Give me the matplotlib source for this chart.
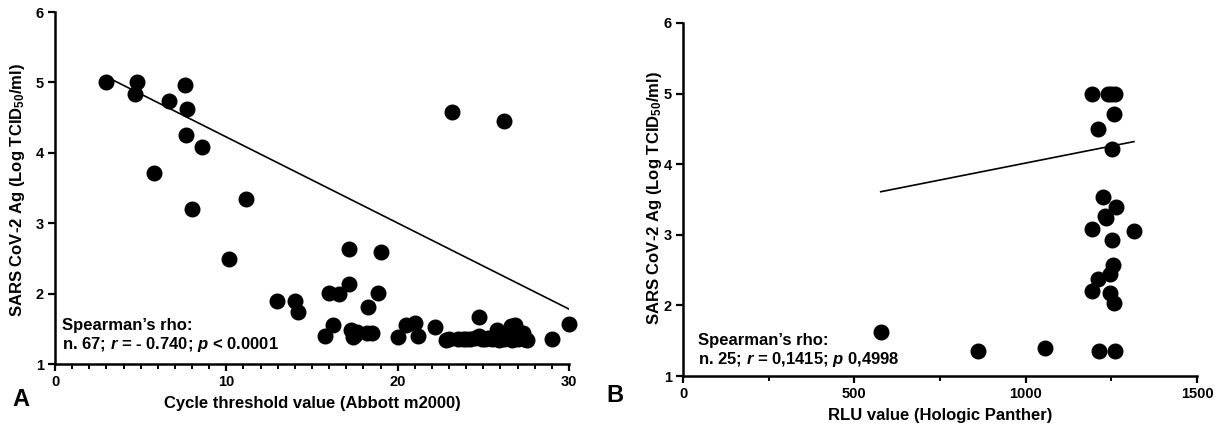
import matplotlib
matplotlib.use("Agg")
import matplotlib.pyplot as plt
from matplotlib.ticker import MultipleLocator

plt.rcParams['font.family'] = ['Liberation Sans', 'DejaVu Sans']
plt.rcParams['font.weight'] = 'bold'
plt.rcParams['mathtext.fontset'] = 'custom'
plt.rcParams['mathtext.rm'] = 'Liberation Sans:bold'
plt.rcParams['mathtext.it'] = 'Liberation Sans:italic:bold'
plt.rcParams['mathtext.bf'] = 'Liberation Sans:bold'
plt.rcParams['mathtext.sf'] = 'Liberation Sans'

# Panel A: Ct value (Abbott m2000) vs antigen
ct_values = [3.0, 4.8, 4.67, 6.65, 7.59, 7.7, 7.65, 8.58, 5.78, 7.99,
             11.15, 10.16, 12.96, 14.0, 14.18, 23.2, 26.2, 15.76, 16.2, 16.0,
             16.6, 17.16, 18.86, 18.27, 17.16, 19.03, 17.3, 17.5, 17.4, 18.2,
             18.5, 20.0, 20.5, 21.0, 21.2, 22.2, 22.8, 23.5, 24.2, 24.75,
             24.75, 25.1, 25.8, 25.9, 26.6, 26.85, 26.95, 27.3, 27.55, 26.7,
             29.0, 30.0, 23.0, 23.8, 24.5, 24.9, 25.3, 25.5, 26.2, 26.4,
             27.0, 27.2, 27.4, 24.0, 25.6, 26.0, 17.6]
ag_a = [5.0, 5.0, 4.83, 4.73, 4.96, 4.62, 4.25, 4.08, 3.71, 3.20,
        3.34, 2.49, 1.89, 1.89, 1.74, 4.58, 4.45, 1.40, 1.56, 2.01,
        1.99, 2.13, 2.01, 1.81, 2.63, 2.59, 1.48, 1.41, 1.38, 1.44,
        1.44, 1.38, 1.55, 1.58, 1.40, 1.52, 1.34, 1.35, 1.35, 1.67,
        1.40, 1.35, 1.48, 1.34, 1.54, 1.55, 1.41, 1.44, 1.34, 1.34,
        1.35, 1.57, 1.36, 1.36, 1.37, 1.36, 1.37, 1.36, 1.36, 1.38,
        1.36, 1.37, 1.36, 1.36, 1.38, 1.37, 1.45]
fit_a_x = [3.0, 30.0]
fit_a_y = [5.08, 1.78]

# Panel B: RLU value (Hologic Panther) vs antigen
rlu_values = [1195, 1240, 1262, 1250, 1258, 1210, 1252, 1225, 1265, 1232,
              1235, 1315, 1195, 1252, 1254, 1246, 1212, 1245, 1195, 1257,
              1262, 1215, 577, 860, 1055]
ag_b = [5.0, 5.0, 5.0, 5.0, 4.71, 4.5, 4.22, 3.54, 3.39, 3.26,
        3.24, 3.06, 3.08, 2.92, 2.57, 2.45, 2.37, 2.18, 2.21, 2.04,
        1.35, 1.35, 1.63, 1.35, 1.40]
fit_b_x = [577, 1316]
fit_b_y = [3.61, 4.32]

ylabel = 'SARS CoV-2 Ag (Log TCID$_{50}$/ml)'

fig = plt.figure(figsize=(12.22, 4.34), dpi=100)
ax_a = fig.add_axes([55 / 1222, 1 - 364 / 434, 514 / 1222, 352 / 434])
ax_b = fig.add_axes([683 / 1222, 1 - 376 / 434, 514 / 1222, 353 / 434])


def style_axis(ax):
    for side in ['top', 'right']:
        ax.spines[side].set_visible(False)
    for side in ['left', 'bottom']:
        ax.spines[side].set_linewidth(1.8)
    ax.tick_params(which='major', length=5, width=1.6, labelsize=10.5, pad=3)
    ax.tick_params(which='minor', length=3.5, width=1.4)
    ax.tick_params(axis='y', which='minor', length=0)
    for lab in ax.get_xticklabels() + ax.get_yticklabels():
        lab.set_fontweight('bold')
    ax.set_ylim(1, 6)
    ax.yaxis.set_major_locator(MultipleLocator(1))


# A
ax_a.plot(fit_a_x, fit_a_y, color='black', lw=1.2, zorder=2)
ax_a.plot(ct_values, ag_a, 'o', color='black', markersize=10.5, zorder=3, clip_on=False)
ax_a.set_xlim(0, 30)
ax_a.xaxis.set_major_locator(MultipleLocator(10))
ax_a.xaxis.set_minor_locator(MultipleLocator(1))
style_axis(ax_a)
ax_a.set_xlabel('Cycle threshold value (Abbott m2000)', fontsize=12, fontweight='bold', labelpad=5)
ax_a.text(0.014, 0.097, "Spearman\u2019s rho:", transform=ax_a.transAxes, fontsize=12, fontweight='bold')
ax_a.text(0.014, 0.043, r"n. 67; $r$ = - 0.740; $p$ < 0.0001", transform=ax_a.transAxes,
          fontsize=12, fontweight='bold')

# B
ax_b.plot(fit_b_x, fit_b_y, color='black', lw=1.2, zorder=2)
ax_b.plot(rlu_values, ag_b, 'o', color='black', markersize=10.5, zorder=3, clip_on=False)
ax_b.set_xlim(0, 1500)
ax_b.xaxis.set_major_locator(MultipleLocator(500))
ax_b.xaxis.set_minor_locator(MultipleLocator(250))
style_axis(ax_b)
ax_b.set_xlabel('RLU value (Hologic Panther)', fontsize=12, fontweight='bold', labelpad=5)
ax_b.text(0.029, 0.088, "Spearman\u2019s rho:", transform=ax_b.transAxes, fontsize=12, fontweight='bold')
ax_b.text(0.029, 0.035, r"n. 25; $r$ = $\mathsf{0{,}1415}$; $p$ $\mathsf{0{,}4998}$", transform=ax_b.transAxes,
          fontsize=12, fontweight='bold')

fig.text(18 / 1222, 1 - 190 / 434, ylabel, rotation=90, ha='center', va='center',
         fontsize=12, fontweight='bold')
fig.text(655 / 1222, 1 - 198 / 434, ylabel, rotation=90, ha='center', va='center',
         fontsize=12, fontweight='bold')
fig.text(21 / 1222, 1 - 400 / 434, 'A', ha='center', va='center', fontsize=17, fontweight='bold')
fig.text(615 / 1222, 1 - 396 / 434, 'B', ha='center', va='center', fontsize=17, fontweight='bold')

fig.savefig('out.png', dpi=100)
